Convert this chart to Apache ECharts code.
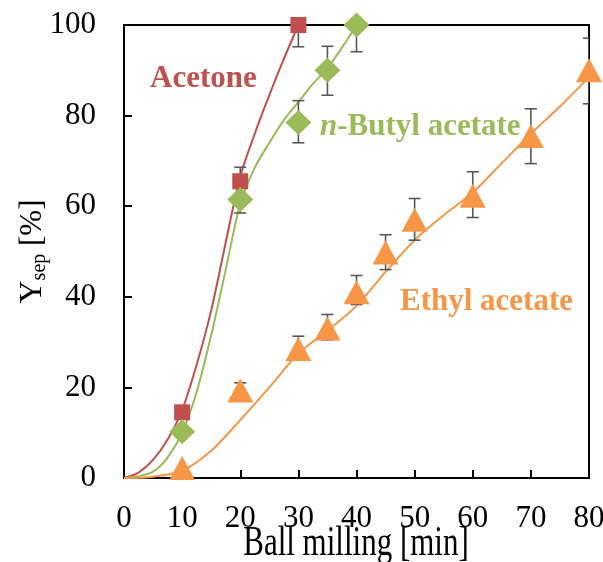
<!DOCTYPE html>
<html>
<head>
<meta charset="utf-8">
<script src="https://cdn.jsdelivr.net/npm/echarts@6/dist/echarts.min.js"></script>
<style>
    html, body { margin: 0; padding: 0; background: #fff; }
    #chart { width: 603px; height: 562px; }
</style>
</head>
<body>
<div id="chart"></div>
<script>
// measured points [min, Ysep %]
var acetonePts = [[10, 14.5], [20, 65.5], [30, 100]];
var butylPts = [[10, 10.2], [20, 61.5], [30, 78.5], [35, 90], [40, 100]];
var ethylPts = [[10, 2.2], [20, 19.3], [30, 28.5], [35, 33], [40, 41], [45, 49.8], [50, 57], [60, 62.3], [70, 75.5], [80, 90]];

// error bars [min, low, high]
var acetoneErr = [[20, 62.5, 68.6], [30, 95.2, 104.8]];
var butylErr = [[20, 58.5, 64.7], [30, 74, 83.3], [35, 84.5, 95.3], [40, 94.1, 105.9]];
var ethylErr = [[20, 17.5, 21], [30, 26, 31.3], [35, 30.5, 36.1], [40, 38.3, 44.7], [45, 46, 53.7],
    [50, 52.5, 61.7], [60, 57.5, 67.6], [70, 69.4, 81.5], [80, 82.6, 97.1]];

// fitted curves
var acetoneFit = [[0, 0], [2.5, 1.2], [5, 4], [7.5, 8.5], [10, 15], [12.5, 25], [15, 37], [17.5, 52],
    [20, 66.5], [22.5, 76], [25, 84.5], [27.5, 92.5], [30, 100]];
var butylFit = [[0, 0], [2.5, 0.4], [5, 1.4], [7.5, 4.5], [10, 10], [12.5, 19], [15, 31.5], [17.5, 46], [20, 60.5],
    [22.5, 68.5], [25, 74], [27.5, 79], [30, 83], [32.5, 87], [35, 90.5], [37.5, 95], [40, 100]];
var ethylFit = [[0, 0], [5, 0.3], [10, 1.6], [15, 6], [20, 12.8], [25, 20], [30, 27.5], [35, 32.5], [40, 38],
    [45, 45.5], [50, 52.5], [55, 58], [60, 63], [65, 69.5], [70, 76], [75, 82], [80, 88.5]];

var xTicks = [0, 10, 20, 30, 40, 50, 60, 70, 80];
var yTicks = [0, 20, 40, 60, 80, 100];

var RED = '#C0504D', GREEN = '#9BBB59', ORANGE = '#F79646', GREY = '#595959';
var FONT = '"Liberation Serif", "Times New Roman", serif';

function errBar(params, api) {
    var x = api.value(0);
    var lo = api.coord([x, api.value(1)]);
    var hi = api.coord([x, api.value(2)]);
    var w = 6;
    var st = { stroke: GREY, lineWidth: 1.6 };
    return {
        type: 'group',
        children: [
            { type: 'line', shape: { x1: lo[0], y1: lo[1], x2: hi[0], y2: hi[1] }, style: st },
            { type: 'line', shape: { x1: lo[0] - w, y1: lo[1], x2: lo[0] + w, y2: lo[1] }, style: st },
            { type: 'line', shape: { x1: hi[0] - w, y1: hi[1], x2: hi[0] + w, y2: hi[1] }, style: st }
        ]
    };
}

function fitLine(data, color) {
    return {
        type: 'line', data: data, smooth: 0.3, showSymbol: false, symbol: 'none',
        lineStyle: { color: color, width: 2 }, z: 2, silent: true
    };
}

function errSeries(data) {
    return { type: 'custom', data: data, renderItem: errBar, clip: true, z: 3, silent: true };
}

function pts(data, symbol, size, color) {
    return {
        type: 'scatter', data: data, symbol: symbol, symbolSize: size,
        itemStyle: { color: color, opacity: 1 }, z: 4, silent: true
    };
}

var chart = echarts.init(document.getElementById('chart'));
var option = {
    backgroundColor: '#fff',
    animation: false,
    grid: {
        left: 124, right: 14, top: 25, bottom: 84, outerBoundsMode: 'none', containLabel: false,
        show: true, borderColor: '#000', borderWidth: 2
    },
    xAxis: {
        type: 'value', min: 0, max: 80, interval: 10,
        axisLine: { lineStyle: { color: '#000', width: 2 } },
        axisTick: { inside: true, length: 8, lineStyle: { color: '#000', width: 2 } },
        axisLabel: {
            fontFamily: FONT, fontSize: 31, color: '#000', margin: 25,
            formatter: function (v) { return xTicks.indexOf(v) >= 0 ? String(v) : ''; }
        },
        splitLine: { show: false }
    },
    yAxis: {
        type: 'value', min: 0, max: 100, interval: 20,
        name: '{i|Y}{s|sep} [%]', nameLocation: 'middle', nameGap: 74, nameMoveOverlap: false,
        nameTextStyle: {
            fontFamily: FONT, fontSize: 31, color: '#000',
            rich: {
                i: { fontFamily: FONT, fontSize: 32, color: '#000' },
                s: { fontFamily: FONT, fontSize: 20, color: '#000', verticalAlign: 'bottom', padding: [14, 0, 0, 0] }
            }
        },
        axisLine: { lineStyle: { color: '#000', width: 2 } },
        axisTick: { inside: true, length: 8, lineStyle: { color: '#000', width: 2 } },
        axisLabel: {
            fontFamily: FONT, fontSize: 31, color: '#000', margin: 28,
            formatter: function (v) { return yTicks.indexOf(v) >= 0 ? String(v) : ''; }
        },
        splitLine: { show: false }
    },
    graphic: [
        // x axis title is drawn taller than the tick labels in the original
        { type: 'text', x: 356, y: 544, scaleY: 1.38, z: 10,
          style: { text: 'Ball milling [min]', font: '31px ' + FONT, fill: '#000', align: 'center', verticalAlign: 'middle' } },
        { type: 'text', left: 150, top: 63, z: 10,
          style: { text: 'Acetone', font: 'bold 31px ' + FONT, fill: RED } },
        { type: 'text', left: 320, top: 111, z: 10,
          style: { text: '{i|n}-Butyl acetate', font: 'bold 31px ' + FONT, fill: GREEN,
                   rich: { i: { fontStyle: 'italic', fontWeight: 'bold', fontSize: 31, fontFamily: FONT, fill: GREEN, color: GREEN } } } },
        { type: 'text', left: 400, top: 286, z: 10,
          style: { text: 'Ethyl acetate', font: 'bold 31px ' + FONT, fill: ORANGE } }
    ],
    series: [
        fitLine(acetoneFit, RED),
        fitLine(butylFit, GREEN),
        fitLine(ethylFit, ORANGE),
        errSeries(acetoneErr),
        errSeries(butylErr),
        errSeries(ethylErr),
        pts(acetonePts, 'rect', 16, RED),
        pts(butylPts, 'diamond', [26, 25], GREEN),
        pts(ethylPts, 'triangle', [26, 24], ORANGE)
    ]
};
chart.setOption(option);
</script>
</body>
</html>
